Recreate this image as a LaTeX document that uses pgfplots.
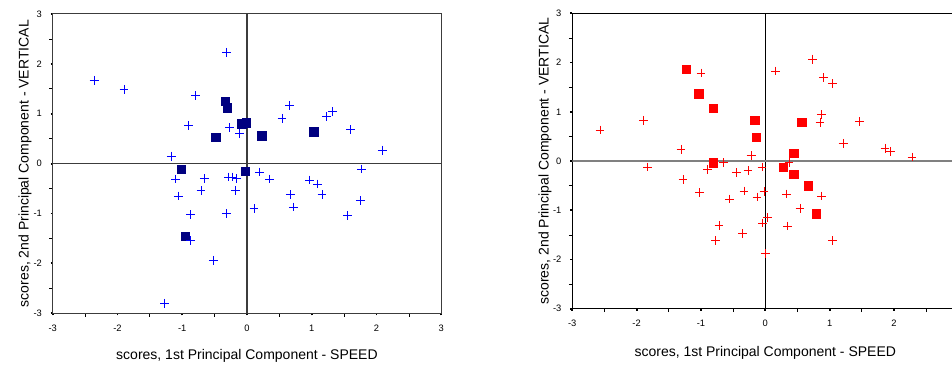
\documentclass[border=0pt]{standalone}
\usepackage{fontspec}
\setmainfont{Liberation Sans}
\usepackage{pgfplots}
\pgfplotsset{compat=1.18}
\definecolor{navysq}{RGB}{0,0,128}
\definecolor{pblue}{RGB}{0,0,255}
\definecolor{pred}{RGB}{255,0,0}
\definecolor{zgray}{RGB}{60,60,60}
\definecolor{lgray}{RGB}{128,128,128}
\pgfplotsset{pcastyle/.style={
  scale only axis, xmin=-3, xmax=3, ymin=-3, ymax=3,
  ytick={-3,-2,-1,0,1,2,3},
  minor ytick={-2.5,-1.5,-0.5,0.5,1.5,2.5},
  minor xtick={-2.5,-1.5,-0.5,0.5,1.5,2.5},
  tick align=outside, xtick pos=bottom, ytick pos=left,
  major tick length=1.6pt, minor tick length=2.6pt,
  every major tick/.append style={line width=1.4pt, black},
  every minor tick/.append style={line width=0.5pt, black},
  /pgf/number format/assume math mode=true,
  ticklabel style={font=\fontsize{7}{8}\selectfont},
  yticklabel style={xshift=-3pt},
  xticklabel style={yshift=-3.5pt},
  label style={font=\fontsize{10.5}{12}\selectfont},
  xlabel={scores, 1st Principal Component - SPEED},
  ylabel={scores, 2nd Principal Component - VERTICAL},
}}
\begin{document}
\begin{tikzpicture}
\useasboundingbox (0,0) rectangle (714pt,275.25pt);
\clip (0,0) rectangle (714pt,275.25pt);
% ---------------- left plot ----------------
\begin{axis}[pcastyle, at={(39.5pt,40.3pt)}, anchor=south west,
  width=291.45pt, height=224.5pt,
  xtick={-3,-2,-1,0,1,2,3},
  axis line style={zgray, line width=0.8pt},
  xlabel style={at={(axis description cs:0.5,-0.1425)}, anchor=center},
  ylabel style={at={(axis description cs:-0.0714,0.5)}, anchor=center}]
\addplot[zgray, line width=0.8pt] coordinates {(0,-3) (0,3)};
\addplot[zgray, line width=0.8pt] coordinates {(-3,0) (3,0)};
\addplot[only marks, mark=square*, mark size=3.1pt, color=navysq] coordinates {
(-0.33,1.25) (-0.30,1.12) (-0.48,0.53) (-0.08,0.80) (-0.01,0.82)
(0.23,0.56) (1.03,0.64) (-1.02,-0.12) (-0.03,-0.15) (-0.95,-1.45)};
\addplot[only marks, mark=+, mark size=3.3pt, color=pblue, mark options={line width=0.6pt}] coordinates {
(-2.36,1.67) (-1.90,1.49) (-0.31,2.23) (-0.80,1.36) (-0.90,0.76) (-0.27,0.72)
(-0.11,0.61) (-1.17,0.15) (0.66,1.16) (0.54,0.91) (1.23,0.94) (1.32,1.04)
(1.60,0.68) (2.09,0.27)
(-1.10,-0.31) (-0.66,-0.30) (-1.06,-0.65) (-0.71,-0.54) (-0.28,-0.27) (-0.23,-0.27)
(-0.16,-0.30) (-0.18,-0.54) (-0.87,-1.02) (-0.32,-1.00) (0.11,-0.90) (-0.87,-1.54)
(-0.52,-1.94) (-1.27,-2.80)
(0.19,-0.17) (0.35,-0.31) (0.97,-0.33) (1.09,-0.41) (0.67,-0.62) (1.16,-0.62)
(0.72,-0.87) (1.77,-0.11) (1.75,-0.74) (1.55,-1.04)};
\end{axis}
% ---------------- right plot ----------------
\begin{axis}[pcastyle, at={(429.2pt,43.7pt)}, anchor=south west,
  width=289.5pt, height=221.55pt,
  xtick={-3,-2,-1,0,1,2},
  axis line style={black, line width=0.9pt},
  xlabel style={at={(axis description cs:0.5,-0.15)}, anchor=center},
  ylabel style={at={(axis description cs:-0.0708,0.5)}, anchor=center}]
\addplot[black, line width=0.7pt] coordinates {(0,-3) (0,3)};
\addplot[lgray, line width=1.1pt] coordinates {(-3,0) (3,0)};
\addplot[only marks, mark=square*, mark size=3.2pt, color=pred] coordinates {
(-1.23,1.86) (-1.03,1.37) (-0.81,1.07) (-0.16,0.83) (-0.14,0.48) (-0.81,-0.03)
(0.57,0.79) (0.44,0.16) (0.28,-0.13) (0.44,-0.27) (0.67,-0.50) (0.79,-1.07)};
\addplot[only marks, mark=+, mark size=3.3pt, color=pred, mark options={line width=0.6pt}] coordinates {
(-2.57,0.63) (-1.89,0.83) (-1.00,1.79) (-1.31,0.24) (-0.22,0.11) (-0.65,-0.03)
(-1.83,-0.12) (0.74,2.07) (0.16,1.83) (0.91,1.69) (1.05,1.57) (0.87,0.94)
(0.85,0.78) (1.46,0.80) (1.21,0.36) (1.86,0.26) (1.95,0.20) (2.28,0.08)
(0.37,-0.03) (-0.05,-0.12) (-1.28,-0.37) (-0.90,-0.18) (-1.02,-0.64) (-0.45,-0.24)
(-0.27,-0.20) (-0.33,-0.61) (-0.56,-0.77) (-0.13,-0.73) (-0.72,-1.31) (-0.77,-1.62)
(-0.35,-1.47) (-0.02,-0.62) (0.33,-0.67) (0.88,-0.71) (0.54,-0.96) (0.03,-1.15)
(-0.04,-1.26) (0.35,-1.32) (1.05,-1.62) (0.00,-1.88)};
\end{axis}
\end{tikzpicture}
\end{document}
